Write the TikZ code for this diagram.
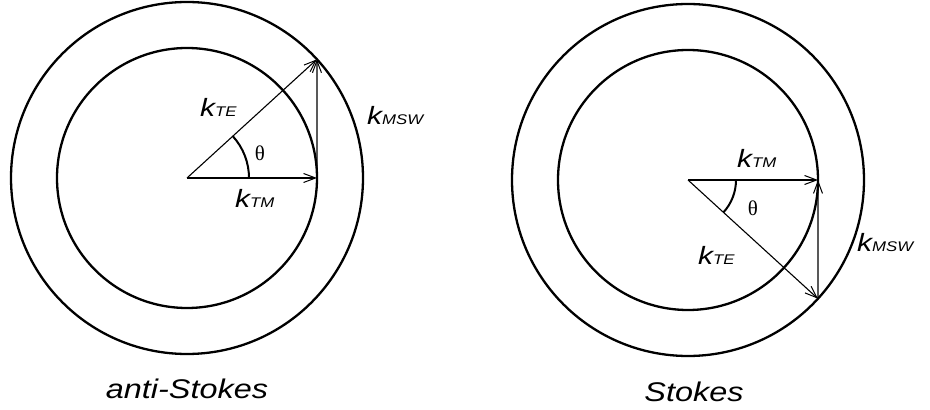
\documentclass[tikz,border=0pt]{standalone}
\usepackage{fontspec}
\setmainfont{Liberation Sans}
\newfontfamily\labfont[FakeStretch=1.2]{Liberation Sans}
\newfontfamily\greekfont{Liberation Serif}
\usetikzlibrary{arrows.meta, angles, positioning}
\tikzstyle{ring} = [line width=2.3pt]
\tikzstyle{vec} = [line width=1.1pt, -{Straight Barb[length=12pt,width=9pt,line width=1pt]}]
\tikzstyle{kvec} = [anchor=base west, inner sep=0pt, font=\labfont\itshape\fontsize{25}{25}\selectfont]
\tikzstyle{ang} = [font=\greekfont\fontsize{21}{21}\selectfont, inner sep=0pt]
\tikzstyle{caption} = [anchor=base, inner sep=0pt, font=\labfont\itshape\fontsize{27}{27}\selectfont]
\newcommand{\sbs}[1]{{\fontsize{14}{14}\selectfont #1}}

\begin{document}
\begin{tikzpicture}[x=1pt, y=1pt]
\useasboundingbox (0,0) rectangle (930,410);

% anti-Stokes
\coordinate (c1) at (187,232);
\coordinate (tm1) at ([shift={(0:130pt)}]c1);
\coordinate (te1) at ([shift={(42.4:176pt)}]c1);
\draw[ring] (c1) circle[radius=130pt];
\draw[ring] (c1) circle[radius=176pt];
\draw[vec] (c1) -- (tm1);
\draw[vec] (c1) -- (te1);
\draw[vec] (tm1) -- (te1);
\pic[draw, line width=2pt, angle radius=62pt] {angle=tm1--c1--te1};

\node (kte1) [kvec] at (200,293) {k\sbs{TE}};
\node (ktm1) [kvec] at (235,202) {k\sbs{TM}};
\node (kmsw1) [kvec] at (367,285) {k\sbs{MSW}};
\node (th1) [ang] at (260,257) {θ};
\node (cap1) [caption] at (187,12) {anti-Stokes};

% Stokes
\coordinate (c2) at (688,230);
\coordinate (tm2) at ([shift={(0:130pt)}]c2);
\coordinate (te2) at ([shift={(-42.4:176pt)}]c2);
\draw[ring] (c2) circle[radius=130pt];
\draw[ring] (c2) circle[radius=176pt];
\draw[vec] (c2) -- (tm2);
\draw[vec] (c2) -- (te2);
\draw[vec] (te2) -- (tm2);
\pic[draw, line width=2pt, angle radius=48pt] {angle=te2--c2--tm2};

\node (ktm2) [kvec] at (737,242) {k\sbs{TM}};
\node (kte2) [kvec] at (698,145) {k\sbs{TE}};
\node (kmsw2) [kvec] at (857,158) {k\sbs{MSW}};
\node (th2) [ang] at (753,202) {θ};
\node (cap2) [caption] at (694,9) {Stokes};

\end{tikzpicture}
\end{document}
